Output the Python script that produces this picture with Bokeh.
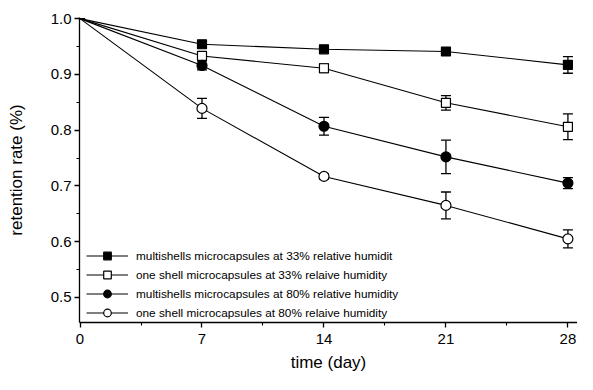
from bokeh.plotting import figure
from bokeh.models import ColumnDataSource, Whisker, TeeHead, Legend, LegendItem, FixedTicker, Range1d, PrintfTickFormatter
from bokeh.embed import file_html
from bokeh.resources import INLINE

days = [0, 7, 14, 21, 28]
series_names = [
    "multishells microcapsules at 33% relative humidit",
    "one shell microcapsules at 33% relaive humidity",
    "multishells microcapsules at 80% relative humidity",
    "one shell microcapsules at 80% relaive humidity",
]
multi_33 = [1.0, 0.954, 0.945, 0.941, 0.917]
multi_33_err = [0.0, 0.006, 0.003, 0.003, 0.015]
single_33 = [1.0, 0.933, 0.911, 0.849, 0.806]
single_33_err = [0.0, 0.004, 0.008, 0.013, 0.023]
multi_80 = [1.0, 0.916, 0.807, 0.752, 0.705]
multi_80_err = [0.0, 0.008, 0.016, 0.030, 0.010]
single_80 = [1.0, 0.839, 0.717, 0.665, 0.605]
single_80_err = [0.0, 0.018, 0.005, 0.024, 0.016]

x_ticks = [0, 7, 14, 21, 28]
y_ticks = [0.5, 0.6, 0.7, 0.8, 0.9, 1.0]

FONT = "Liberation Sans"

p = figure(width=577, height=374, output_backend="svg", toolbar_location=None,
           x_range=Range1d(-0.03, 28.55), y_range=Range1d(0.455, 1.002),
           min_border_left=79, min_border_right=0, min_border_top=17, min_border_bottom=47)
p.outline_line_color = None
p.xgrid.visible = False
p.ygrid.visible = False

series = [
    (multi_33, multi_33_err, "square", "black"),
    (single_33, single_33_err, "square", "white"),
    (multi_80, multi_80_err, "circle", "black"),
    (single_80, single_80_err, "circle", "white"),
]

items = []
for name, (vals, errs, marker, fill) in zip(series_names, series):
    src = ColumnDataSource(dict(x=days, y=vals,
                                lo=[v - e for v, e in zip(vals, errs)],
                                hi=[v + e for v, e in zip(vals, errs)]))
    msrc = ColumnDataSource(dict(x=days[1:], y=vals[1:]))
    w = Whisker(source=src, base="x", lower="lo", upper="hi", line_color="black", line_width=1.3,
                lower_head=TeeHead(size=10, line_color="black", line_width=1.3),
                upper_head=TeeHead(size=10, line_color="black", line_width=1.3))
    p.add_layout(w)
    ln = p.line("x", "y", source=src, line_color="black", line_width=1.1)
    size = 9 if marker == "square" else 10
    mk = p.scatter("x", "y", source=msrc, marker=marker, size=size, fill_color=fill,
                   line_color="black", line_width=1.2)
    items.append(LegendItem(label=name, renderers=[ln, mk]))

legend = Legend(items=items, location=(7, 0), margin=0, padding=0, spacing=0,
                glyph_width=42, glyph_height=19, label_height=19, label_standoff=8,
                label_text_font=FONT, label_text_font_size="11.8px", label_text_color="black",
                background_fill_alpha=0, border_line_color=None)
p.add_layout(legend)

for ax in (p.xaxis[0], p.yaxis[0]):
    ax.major_label_text_font = FONT
    ax.major_label_text_font_size = "15px"
    ax.major_label_text_color = "black"
    ax.axis_label_text_font = FONT
    ax.axis_label_text_font_size = "17px"
    ax.axis_label_text_font_style = "normal"
    ax.axis_label_text_color = "black"
    ax.axis_line_color = "black"
    ax.axis_line_width = 1.3
    ax.major_tick_line_color = "black"
    ax.minor_tick_line_color = "black"
    ax.major_tick_line_width = 1.3
    ax.minor_tick_line_width = 1.1
    ax.major_tick_in = 0
    ax.major_tick_out = 5
    ax.minor_tick_in = 0
    ax.minor_tick_out = 3

p.xaxis.ticker = FixedTicker(ticks=x_ticks, minor_ticks=[3.5, 10.5, 17.5, 24.5])
p.yaxis.ticker = FixedTicker(ticks=y_ticks, minor_ticks=[0.55, 0.65, 0.75, 0.85, 0.95])
p.yaxis.formatter = PrintfTickFormatter(format="%.1f")
p.xaxis.axis_label = "time (day)"
p.yaxis.axis_label = "retention rate (%)"
p.xaxis.major_label_standoff = 6
p.yaxis.major_label_standoff = 3
p.xaxis.axis_label_standoff = 6
p.yaxis.axis_label_standoff = 22

open("out.html", "w").write(file_html(p, INLINE))
